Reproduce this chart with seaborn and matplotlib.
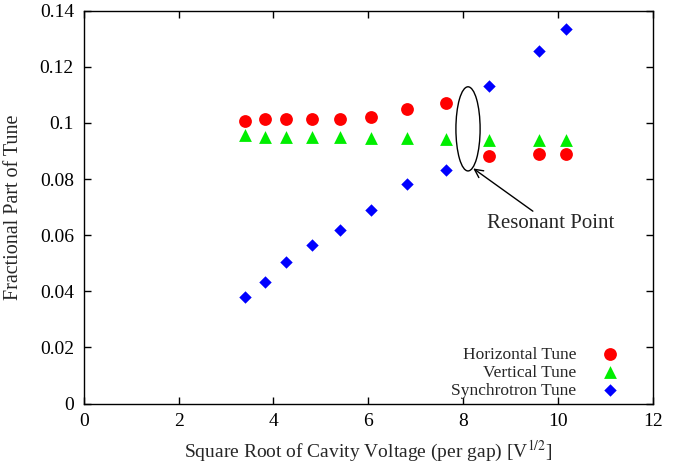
import pandas as pd
import matplotlib
matplotlib.use('Agg')
import matplotlib.pyplot as plt
from matplotlib.patches import Ellipse
import seaborn as sns

# values
sqrtV = [3.40, 3.82, 4.27, 4.81, 5.40, 6.06, 6.81, 7.63, 8.55, 9.60, 10.16]
horizontal = [0.1007, 0.1014, 0.1014, 0.1014, 0.1014, 0.1020, 0.1050, 0.1072, 0.0881, 0.0888, 0.0888]
vertical = [0.0958, 0.0951, 0.0951, 0.0951, 0.0951, 0.0945, 0.0945, 0.0942, 0.0939, 0.0939, 0.0939]
synchrotron = [0.0379, 0.0432, 0.0504, 0.0564, 0.0617, 0.0689, 0.0783, 0.0832, 0.1131, 0.1257, 0.1335]
names = ['Horizontal Tune', 'Vertical Tune', 'Synchrotron Tune']

df = pd.DataFrame({'x': sqrtV, 'Horizontal Tune': horizontal,
                   'Vertical Tune': vertical, 'Synchrotron Tune': synchrotron})

sns.set_style('ticks')
plt.rcParams['font.family'] = ['Liberation Serif', 'DejaVu Serif']
plt.rcParams['mathtext.fontset'] = 'stix'

fig, ax = plt.subplots(figsize=(6.94, 4.68), dpi=100)
fig.subplots_adjust(left=0.1206, right=0.941, top=0.977, bottom=0.1378)

colors = ['#ff0000', '#00ee00', '#0000ff']
marks = ['o', '^', 'D']
sizes = [85, 85, 40]
for nm, c, m, s in zip(names, colors, marks, sizes):
    sns.scatterplot(data=df, x='x', y=nm, color=c, marker=m, s=s,
                    linewidth=0, label=nm, ax=ax)

# resonant point annotation
ax.add_patch(Ellipse((8.10, 0.0979), 0.51, 0.030, fill=False, color='black', lw=1))
ax.annotate('Resonant Point', xy=(8.21, 0.0838), xytext=(8.5, 0.0640),
            fontsize=15, va='center', ha='left',
            arrowprops=dict(arrowstyle='->', color='black', lw=1, shrinkA=0, shrinkB=0))

ax.set_xlim(0, 12)
ax.set_ylim(0, 0.14)
ax.set_xticks(range(0, 13, 2))
ax.set_yticks([0, 0.02, 0.04, 0.06, 0.08, 0.1, 0.12, 0.14])
ax.set_yticklabels(['0', '0.02', '0.04', '0.06', '0.08', '0.1', '0.12', '0.14'])
ax.tick_params(direction='in', top=True, right=True, length=5, width=1,
               labelsize=14, colors='black', pad=7)
for sp in ax.spines.values():
    sp.set_linewidth(1)
    sp.set_color('black')

ax.set_xlabel('Square Root of Cavity Voltage (per gap) [V$^{1/2}$]', fontsize=14, labelpad=6)
ax.set_ylabel('Fractional Part of Tune', fontsize=14.5, labelpad=12)

ax.legend(loc='lower right', bbox_to_anchor=(0.951, -0.005), frameon=False,
          markerfirst=False, fontsize=12.5, handlelength=1.0, handletextpad=1.4,
          labelspacing=0.1, borderaxespad=0, borderpad=0.4)

plt.savefig('out.png', dpi=100)
